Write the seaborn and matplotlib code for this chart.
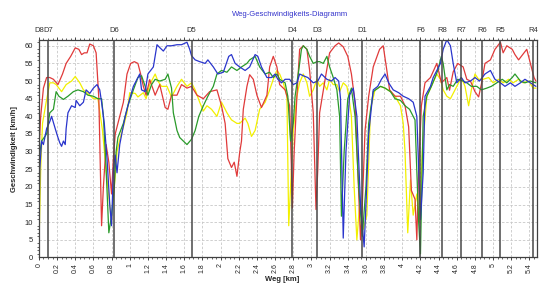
import matplotlib
matplotlib.use("Agg")
import matplotlib.pyplot as plt
import matplotlib.transforms as mtransforms
from matplotlib.ticker import MultipleLocator, FuncFormatter
import seaborn as sns

# ---- data (km, km/h) ----
red_km = [
    0.00, 0.02, 0.05, 0.085, 0.12, 0.16, 0.21, 0.26, 0.30, 0.35,
    0.40, 0.44, 0.47, 0.50, 0.53, 0.56, 0.60, 0.63, 0.66, 0.69,
    0.71, 0.74, 0.77, 0.80, 0.82, 0.84, 0.89, 0.93, 0.97, 1.01,
    1.05, 1.09, 1.12, 1.15, 1.18, 1.22, 1.28, 1.33, 1.39, 1.42,
    1.46, 1.52, 1.57, 1.63, 1.68, 1.74, 1.81, 1.88, 1.96, 2.01,
    2.05, 2.08, 2.12, 2.15, 2.18, 2.21, 2.23, 2.25, 2.29, 2.32,
    2.36, 2.40, 2.45, 2.51, 2.54, 2.58, 2.62, 2.65, 2.71, 2.76,
    2.78, 2.79, 2.81, 2.84, 2.87, 2.91, 2.95, 2.98, 3.02, 3.05,
    3.07, 3.09, 3.15, 3.20, 3.26, 3.30, 3.35, 3.40, 3.44, 3.48,
    3.51, 3.54, 3.56, 3.59, 3.63, 3.68, 3.75, 3.79, 3.83, 3.86,
    3.92, 3.98, 4.03, 4.07, 4.10, 4.14, 4.16, 4.18, 4.21, 4.25,
    4.31, 4.34, 4.38, 4.43, 4.49, 4.52, 4.56, 4.61, 4.67, 4.71,
    4.75, 4.80, 4.84, 4.87, 4.91, 4.97, 5.02, 5.08, 5.11, 5.15,
    5.21, 5.24, 5.28, 5.31, 5.37, 5.41, 5.45, 5.47]
red_kmh = [
    30, 40, 48, 51, 51, 50.5, 49, 52, 55, 57,
    59.4, 59, 57.5, 58, 58, 60.5, 60, 58, 45, 9,
    20, 32, 27, 18, 28, 35, 40, 44, 52, 55,
    55.5, 55, 52, 48.5, 46, 50.4, 46, 49, 42.5, 42,
    46, 46, 49, 48, 48.5, 46, 45, 47, 47.5, 43,
    38, 28, 25.5, 27, 23, 29.7, 33, 42, 48.5, 51.8,
    50.5, 46, 42.5, 46, 54, 57, 54, 49, 47.5, 43,
    25, 14, 30, 45.7, 59, 60, 59, 53, 41, 13.6,
    25, 41, 50.4, 58, 60, 60.8, 59.7, 57, 52, 44,
    25, 5, 15, 36, 45.7, 54, 59, 60, 53, 47.5,
    45.7, 45.7, 43, 37, 19, 16.5, 5, 25, 43, 49.5,
    51, 52.7, 55, 49.5, 51, 47.4, 52.6, 55, 54, 50.5,
    50, 47, 45.5, 49, 55, 56, 59, 61, 58, 60,
    59, 57.5, 56, 57, 59, 55, 51, 50]

yellow_km = [
    0.00, 0.02, 0.04, 0.08, 0.12, 0.16, 0.19, 0.25, 0.30, 0.36,
    0.40, 0.45, 0.49, 0.54, 0.60, 0.65, 0.70, 0.75, 0.80, 0.83,
    0.86, 0.89, 0.93, 0.97, 1.00, 1.06, 1.09, 1.15, 1.18, 1.22,
    1.28, 1.31, 1.35, 1.41, 1.46, 1.52, 1.57, 1.63, 1.68, 1.72,
    1.77, 1.81, 1.85, 1.90, 1.96, 2.01, 2.07, 2.12, 2.18, 2.21,
    2.27, 2.30, 2.34, 2.38, 2.43, 2.49, 2.54, 2.58, 2.62, 2.65,
    2.69, 2.73, 2.75, 2.77, 2.80, 2.84, 2.87, 2.91, 2.95, 2.98,
    3.02, 3.06, 3.09, 3.13, 3.17, 3.20, 3.24, 3.28, 3.31, 3.35,
    3.39, 3.41, 3.44, 3.47, 3.50, 3.53, 3.57, 3.61, 3.65, 3.70,
    3.76, 3.81, 3.87, 3.92, 3.98, 4.01, 4.03, 4.06, 4.09, 4.12,
    4.16, 4.19, 4.22, 4.27, 4.32, 4.38, 4.42, 4.45, 4.49, 4.53,
    4.56, 4.60, 4.65, 4.69, 4.73, 4.76, 4.80, 4.84, 4.89, 4.95,
    5.00, 5.06, 5.11, 5.17, 5.22, 5.28, 5.33, 5.39, 5.44, 5.47]
yellow_kmh = [
    2, 25, 38, 44, 49.5, 49.5, 49, 47, 49, 50,
    51.3, 49.5, 47.5, 46.5, 45, 45, 36, 22, 10, 20,
    30, 33.4, 37, 41, 46.7, 46.5, 45.5, 46.7, 45, 49,
    52, 50, 48.5, 48.5, 45.5, 48.5, 50.5, 48.5, 49.5, 47.5,
    44, 41.5, 43, 42, 40, 44, 41, 39, 38, 38,
    39.5, 38, 34.3, 36, 42, 44, 47.5, 50.5, 53, 52,
    49.5, 45.7, 9, 20, 36, 45.7, 49.5, 52, 49.5, 45.7,
    47.5, 50.5, 48.5, 49.5, 47.5, 50.5, 49, 49, 47, 49.5,
    48.5, 45.7, 40, 20, 5, 15, 8, 12, 42, 47.5,
    48.5, 48, 47, 45.7, 43, 38, 30, 7, 22, 12,
    18, 10, 30, 45.7, 48.5, 52, 50.5, 47.5, 45.7, 45,
    46.5, 48.5, 51, 48.5, 43, 47.5, 52, 50.5, 50.5, 51,
    49.5, 50.5, 49.5, 50.5, 49.5, 50.5, 49.5, 50, 48, 48]

green_km = [
    0.00, 0.03, 0.085, 0.12, 0.16, 0.19, 0.22, 0.27, 0.32, 0.38,
    0.43, 0.49, 0.54, 0.60, 0.65, 0.69, 0.71, 0.74, 0.77, 0.80,
    0.83, 0.85, 0.87, 0.93, 0.98, 1.04, 1.09, 1.13, 1.17, 1.20,
    1.24, 1.28, 1.33, 1.39, 1.42, 1.46, 1.48, 1.52, 1.55, 1.59,
    1.63, 1.68, 1.72, 1.76, 1.81, 1.86, 1.92, 1.96, 2.01, 2.07,
    2.12, 2.18, 2.23, 2.29, 2.32, 2.38, 2.43, 2.49, 2.54, 2.58,
    2.62, 2.65, 2.71, 2.74, 2.77, 2.80, 2.82, 2.86, 2.89, 2.91,
    2.95, 2.98, 3.02, 3.06, 3.09, 3.13, 3.17, 3.20, 3.24, 3.28,
    3.31, 3.33, 3.36, 3.40, 3.44, 3.48, 3.52, 3.56, 3.60, 3.63,
    3.68, 3.76, 3.81, 3.87, 3.92, 3.98, 4.03, 4.08, 4.14, 4.18,
    4.20, 4.23, 4.27, 4.32, 4.36, 4.39, 4.43, 4.45, 4.49, 4.52,
    4.56, 4.61, 4.67, 4.71, 4.76, 4.82, 4.87, 4.93, 4.98, 5.04,
    5.10, 5.15, 5.21, 5.24, 5.30, 5.35, 5.41, 5.47]
green_kmh = [
    28, 33, 35, 41, 42, 47, 45.7, 44.8, 45.7, 47,
    47.5, 47, 46, 45.7, 45, 45, 40, 25, 7, 12,
    20, 30, 34, 38, 43, 47.5, 51, 51.5, 48.5, 46,
    49, 50.5, 50, 50.5, 52, 48, 41, 36, 34, 33,
    32, 33.5, 36, 40, 43, 45.7, 48.5, 52, 53, 52.5,
    54, 53, 54, 55, 56, 57, 54, 52, 52.5, 51,
    52, 50.5, 49.5, 45.7, 33, 38, 45.7, 53, 59, 60,
    59, 57, 55, 55.5, 55.5, 55, 57, 54, 51, 47.5,
    40, 11.7, 30, 45, 48, 40, 20, 6, 20, 38,
    47, 48.5, 48, 47, 45, 44.5, 43, 42, 39, 10,
    1, 40, 45.7, 48.5, 51, 53, 57, 55, 47.5, 49,
    48.5, 50.5, 50, 49.5, 48.5, 48.5, 47.5, 48, 48.5, 49.5,
    50.5, 49.5, 51, 52, 50, 49.5, 50, 49.5]

blue_km = [
    0.00, 0.01, 0.03, 0.05, 0.085, 0.12, 0.14, 0.18, 0.21, 0.23,
    0.25, 0.27, 0.29, 0.30, 0.32, 0.36, 0.40, 0.41, 0.45, 0.49,
    0.52, 0.56, 0.60, 0.64, 0.67, 0.69, 0.72, 0.75, 0.78, 0.80,
    0.82, 0.84, 0.86, 0.89, 0.95, 1.00, 1.04, 1.07, 1.11, 1.13,
    1.17, 1.20, 1.26, 1.30, 1.33, 1.37, 1.41, 1.46, 1.52, 1.57,
    1.63, 1.66, 1.68, 1.72, 1.77, 1.83, 1.86, 1.92, 1.97, 2.03,
    2.09, 2.12, 2.16, 2.21, 2.27, 2.32, 2.38, 2.41, 2.45, 2.51,
    2.56, 2.60, 2.63, 2.67, 2.71, 2.76, 2.80, 2.84, 2.87, 2.91,
    2.96, 3.02, 3.07, 3.11, 3.17, 3.22, 3.26, 3.30, 3.32, 3.35,
    3.38, 3.42, 3.46, 3.50, 3.54, 3.58, 3.60, 3.63, 3.68, 3.73,
    3.77, 3.81, 3.85, 3.90, 3.96, 4.01, 4.07, 4.12, 4.16, 4.20,
    4.23, 4.25, 4.31, 4.34, 4.38, 4.42, 4.45, 4.49, 4.53, 4.56,
    4.60, 4.65, 4.69, 4.75, 4.80, 4.85, 4.91, 4.97, 5.02, 5.08,
    5.13, 5.19, 5.24, 5.30, 5.35, 5.41, 5.47]
blue_kmh = [
    3, 25, 33, 32, 36.5, 38.5, 40, 36.5, 34, 32.5,
    31.5, 33, 32, 36.5, 41, 43, 42.5, 44.5, 43, 44,
    47.5, 46.5, 48, 49, 47.5, 44, 38, 28, 15, 9,
    25, 29, 24, 32, 40, 45, 48.5, 50, 52, 47.5,
    47, 52, 54, 60.3, 59.5, 58.5, 60, 60, 60.3, 60.3,
    61, 59, 57.2, 56, 55.5, 55, 56, 54, 52, 52.5,
    57, 57.5, 55, 54, 53, 54, 57.5, 57, 54, 51,
    51, 52, 50.5, 49.5, 50.5, 50.5, 49, 49.5, 52, 51.5,
    51, 49.5, 50, 52, 50.5, 50, 51, 50, 45, 5.5,
    30, 46, 48, 40, 15, 3, 15, 35, 47.5, 48.5,
    50.5, 52, 49.5, 47.5, 46.7, 45.7, 45, 44, 40, 10.7,
    24, 45.7, 48.5, 51, 53, 55, 59, 61.7, 60, 55,
    49.5, 51, 49.5, 50, 51, 50, 52, 53, 50.5, 49.5,
    48.5, 49.5, 48.5, 49.5, 50.5, 49.5, 48.5]

# Streckenpunkte (vertikale Linien oben beschriftet)
marker_names = ["D8", "D7", "D6", "D5", "D4", "D3", "D1", "F6", "R8", "R7", "R6", "R5", "R4"]
marker_km = [0.0, 0.10, 0.83, 1.68, 2.79, 3.06, 3.56, 4.20, 4.44, 4.65, 4.88, 5.08, 5.44]

# ---- style ----
sns.set_style("white")
plt.rcParams["font.family"] = ["Liberation Sans", "DejaVu Sans"]

fig = plt.figure(figsize=(5.4, 2.86), dpi=100)
ax = fig.add_axes([0.072, 0.0997, 0.922, 0.760])

series = [
    (yellow_km, yellow_kmh, "#f2f000"),
    (red_km, red_kmh, "#e03a3a"),
    (green_km, green_kmh, "#2a9a2a"),
    (blue_km, blue_kmh, "#2a35cc"),
]
for xs, ys, col in series:
    sns.lineplot(x=xs, y=ys, color=col, lw=0.9, ax=ax, estimator=None, sort=False)

for km in marker_km:
    ax.axvline(km, color="#484848", lw=1.1, zorder=5)

trans = mtransforms.blended_transform_factory(ax.transData, ax.transAxes)
for name, km in zip(marker_names, marker_km):
    ax.text(km, 1.045, name, transform=trans, ha="center", va="center",
            fontsize=5.5, color="#333333")

ax.set_xlim(0, 5.48)
ax.set_ylim(0, 61.6)
ax.xaxis.set_major_locator(MultipleLocator(0.2))
ax.xaxis.set_minor_locator(MultipleLocator(0.05))
ax.yaxis.set_major_locator(MultipleLocator(5))
ax.yaxis.set_minor_locator(MultipleLocator(1))
ax.xaxis.set_major_formatter(FuncFormatter(lambda v, p: f"{round(v, 1):g}"))

ax.grid(True, which="major", color="#c8c8c8", ls=(0, (3, 2)), lw=0.6)
ax.tick_params(axis="x", which="major", labelsize=5, rotation=90, length=2.5,
               width=0.6, direction="out", top=True, bottom=True, pad=1.5)
ax.tick_params(axis="y", which="major", labelsize=5.5, length=2.5, width=0.6,
               direction="out", pad=1.5)
ax.tick_params(which="minor", length=1.5, width=0.5, top=True, bottom=True, left=True)
for sp in ax.spines.values():
    sp.set_color("#404040")
    sp.set_linewidth(0.9)

ax.set_ylabel("Geschwindigkeit [km/h]", fontsize=5.5, fontweight="bold", labelpad=5)
fig.text(0.523, 0.022, "Weg [km]", ha="center", va="center",
         fontsize=5.5, fontweight="bold")
fig.text(0.537, 0.951, "Weg-Geschwindigkeits-Diagramm", ha="center", va="center",
         fontsize=5.5, color="#3535cc")

fig.savefig("out.png", dpi=100)
